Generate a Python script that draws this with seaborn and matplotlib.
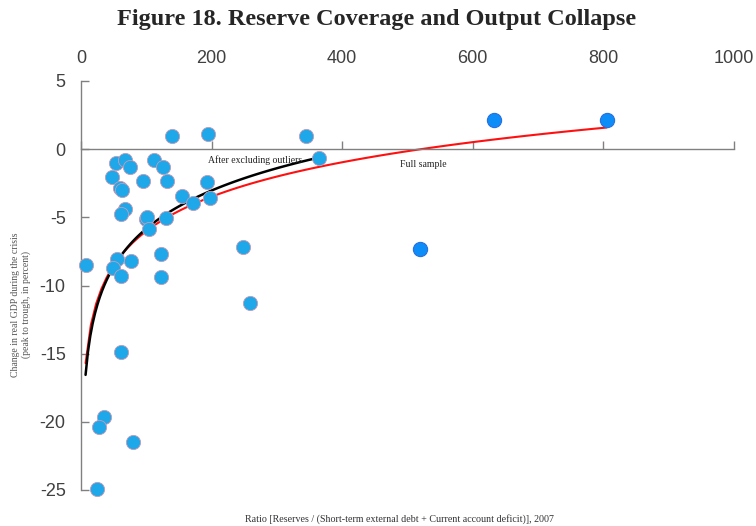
import numpy as np
import pandas as pd
import matplotlib
matplotlib.use("Agg")
import matplotlib.pyplot as plt
import seaborn as sns

# ---- data ----
ratio = [139, 194, 344, 365, 53, 68, 75, 112, 125, 47, 95, 132, 193, 59, 63,
         155, 172, 197, 67, 62, 99, 101, 130, 104, 248, 123, 55, 76, 7, 49,
         61, 122, 259, 61, 35, 28, 80, 24,
         632, 805, 519]
gdp_change = [0.97, 1.12, 1.0, -0.66, -1.02, -0.83, -1.29, -0.76, -1.29, -2.02,
              -2.3, -2.37, -2.41, -2.83, -3.0, -3.47, -3.95, -3.56, -4.39, -4.75,
              -5.1, -5.0, -5.02, -5.83, -7.17, -7.66, -8.07, -8.17, -8.53, -8.7,
              -9.29, -9.36, -11.29, -14.87, -19.63, -20.41, -21.48, -24.94,
              2.17, 2.17, -7.29]
group = ["core"] * 38 + ["outlier"] * 3

x_ticks = [0, 200, 400, 600, 800, 1000]
y_ticks = [5, 0, -5, -10, -15, -20, -25]

df = pd.DataFrame({"ratio": ratio, "gdp": gdp_change, "group": group})
core = df[df["group"] == "core"]

sns.set_style("white")
plt.rcParams["font.family"] = ["Liberation Sans", "DejaVu Sans"]
plt.rcParams["axes.unicode_minus"] = False

fig = plt.figure(figsize=(7.56, 5.26), dpi=100)
ax = fig.add_axes([81 / 756, 1 - 490 / 526, (734 - 81) / 756, (490 - 81) / 526])

# trend lines (log fits)
sns.regplot(data=df, x="ratio", y="gdp", logx=True, ci=None, scatter=False,
            ax=ax, line_kws=dict(color="#ff1010", lw=1.5, zorder=2))
sns.regplot(data=core, x="ratio", y="gdp", logx=True, ci=None, scatter=False,
            ax=ax, line_kws=dict(color="black", lw=1.8, zorder=3))

sns.scatterplot(data=df[df["group"] == "core"], x="ratio", y="gdp", ax=ax,
                s=105, color="#1ea7e9", edgecolor="#c79bb5", linewidth=0.6,
                zorder=4, legend=False, clip_on=False)
sns.scatterplot(data=df[df["group"] == "outlier"], x="ratio", y="gdp", ax=ax,
                s=105, color="#0d8df7", edgecolor="#2a6fe0", linewidth=0.8,
                zorder=4, legend=False, clip_on=False)

ax.set_xlim(0, 1000)
ax.set_ylim(-25, 5)
ax.set_xticks(x_ticks)
ax.set_yticks(y_ticks)
ax.set_xlabel("")
ax.set_ylabel("")

for s in ["top", "right"]:
    ax.spines[s].set_visible(False)
ax.spines["bottom"].set_position(("data", 0))
ax.spines["bottom"].set_color("#808080")
ax.spines["left"].set_color("#808080")
ax.spines["bottom"].set_linewidth(1.0)
ax.spines["left"].set_linewidth(1.0)

ax.tick_params(axis="x", which="both", bottom=True, top=False,
               labelbottom=False, labeltop=True, direction="in",
               length=6, width=1, color="#808080",
               labelsize=13, labelcolor="#404040", pad=10)
ax.tick_params(axis="y", which="both", left=True, direction="in",
               length=6, width=1, color="#808080",
               labelsize=13, labelcolor="#404040", pad=11)

ax.text(194, -0.8, "After excluding outliers", ha="left", va="center",
        fontsize=7, family="Liberation Serif", color="#222222")
ax.text(488, -1.1, "Full sample", ha="left", va="center",
        fontsize=7, family="Liberation Serif", color="#222222")

fig.text(377 / 756, 1 - 19 / 526, "Figure 18. Reserve Coverage and Output Collapse",
         ha="center", va="center", fontsize=17.5, fontweight="bold",
         family="Liberation Serif")
fig.text(399 / 756, 1 - 519 / 526,
         "Ratio [Reserves / (Short-term external debt + Current account deficit)], 2007",
         ha="center", va="center", fontsize=7.2, family="Liberation Serif",
         color="#333333")
fig.text(21 / 756, 1 - 305 / 526,
         "Change in real GDP during the crisis\n(peak to trough, in percent)",
         ha="center", va="center", rotation=90, fontsize=7,
         family="Liberation Serif", color="#555555", linespacing=1.15)

fig.savefig("out.png", dpi=100)
